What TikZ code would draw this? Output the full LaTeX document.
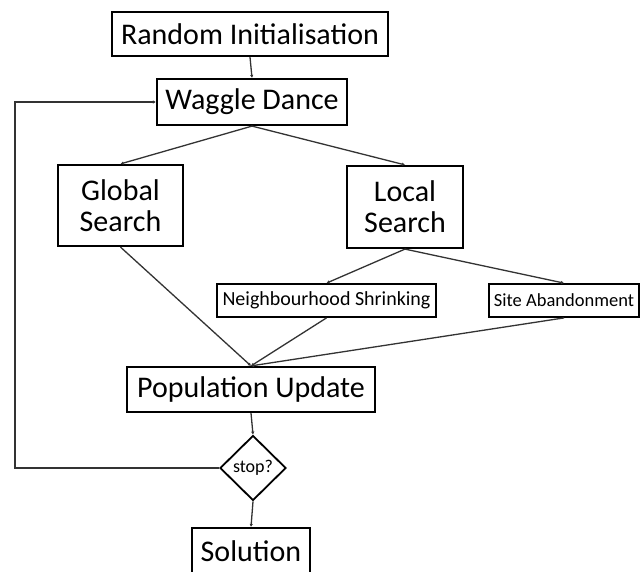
\documentclass[tikz,border=0pt]{standalone}
\usepackage{fontspec}
\setmainfont{Carlito}
\usetikzlibrary{arrows.meta,shapes.geometric}

\begin{document}
\begin{tikzpicture}[x=1pt,y=-1pt,
            box/.style={draw,rectangle,line width=2.2pt,inner sep=0pt,align=center,font=\fontsize{30}{31}\selectfont},
            small/.style={box,line width=1.8pt,minimum height=33,font=\fontsize{20}{22}\selectfont},
            test/.style={draw,diamond,line width=1.8pt,inner sep=0pt,minimum width=66,minimum height=65,font=\fontsize{18}{20}\selectfont},
            line/.style={draw,line width=1.3pt,-{Latex[length=3pt,width=3.5pt]},color=black!80}
          ]
          \clip (0,0) rectangle (642,572);
          \fill[white] (0,0) rectangle (642,572);

          %main column
          \node[box,minimum width=276,minimum height=44] (rand) at (250,34) {Random Initialisation};
          \node[box,minimum width=190,minimum height=46] (waggle) at (252,102) {Waggle Dance};
          \node[box,minimum width=125,minimum height=81] (global) at (120.5,205.5) {Global\\Search};
          \node[box,minimum width=116,minimum height=82] (local) at (405,207) {Local\\Search};
          \node[small,minimum width=219] (ns) at (326.5,300.5) {Neighbourhood Shrinking};
          \node[small,minimum width=150,font=\fontsize{18.5}{20}\selectfont] (sa) at (564,300.5) {Site Abandonment};
          \node[box,minimum width=248,minimum height=45] (pop) at (251,389.5) {Population Update};
          \node[test] (stop) at (253,468) {stop?};
          \node[box,minimum width=118,minimum height=46] (sol) at (251,551) {Solution};

          %loop back
          \coordinate (back) at (15,468);

          \path
          (rand.south) edge[line] (waggle.north)
          (waggle.south) edge[line] (global.north)
          (waggle.south) edge[line] (local.north)
          (local.south) edge[line] (ns.north)
          (local.south) edge[line] (sa.north)
          (global.south) edge[line] (pop.north)
          (ns.south) edge[line] (pop.north)
          (sa.south) edge[line] (pop.north)
          (pop.south) edge[line] (stop.north)
          (stop.south) edge[line] (sol.north)
          ;
          \draw[line] (stop.west) -- (back) |- (waggle.west);

      \end{tikzpicture}
\end{document}
